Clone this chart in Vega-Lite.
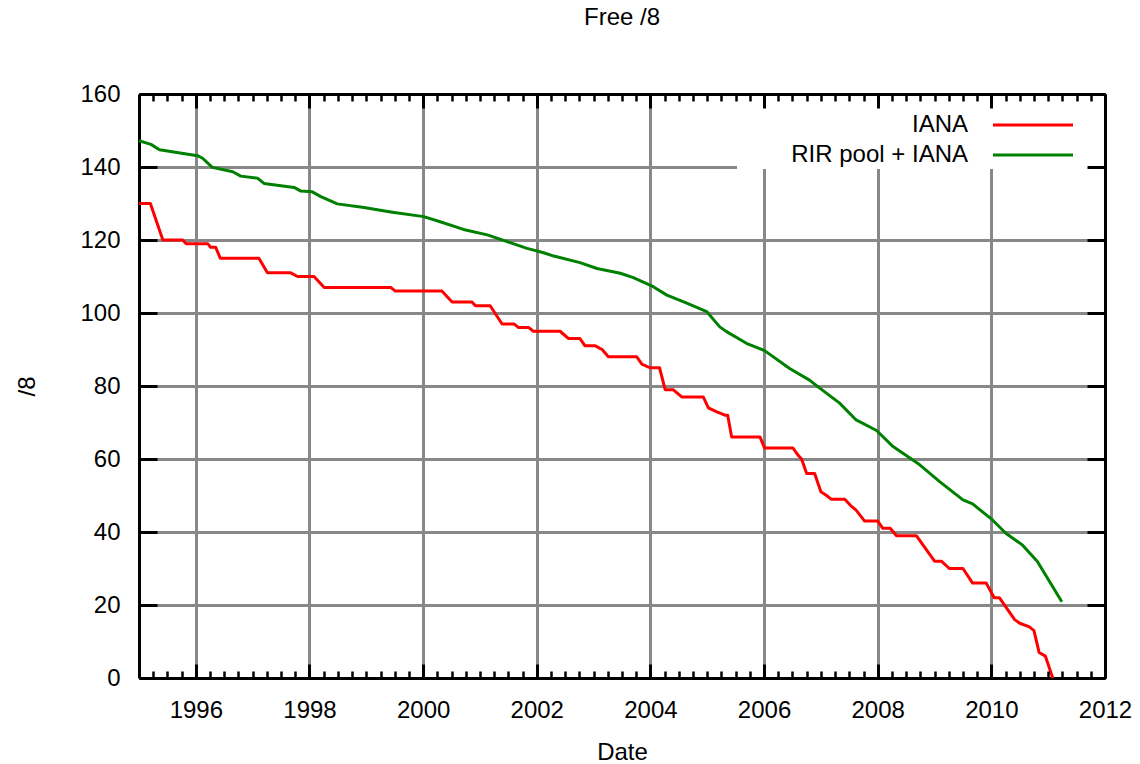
{
  "$schema": "https://vega.github.io/schema/vega-lite/v6.json",
  "width": 966,
  "height": 584,
  "autosize": {"type": "none"},
  "padding": {"left": 139, "top": 94, "right": 35, "bottom": 86},
  "background": "white",
  "config": {"font": "Liberation Sans", "view": {"stroke": null}},
  "title": {"text": "Free /8", "fontSize": 24, "fontWeight": "normal", "color": "black", "anchor": "middle", "baseline": "alphabetic", "offset": 33},
  "data": {"values": [
    {"year": 1995.0, "free": 130, "series": "IANA"},
    {"year": 1995.2, "free": 130, "series": "IANA"},
    {"year": 1995.42, "free": 120, "series": "IANA"},
    {"year": 1995.77, "free": 120, "series": "IANA"},
    {"year": 1995.83, "free": 119, "series": "IANA"},
    {"year": 1996.21, "free": 119, "series": "IANA"},
    {"year": 1996.26, "free": 118, "series": "IANA"},
    {"year": 1996.35, "free": 118, "series": "IANA"},
    {"year": 1996.43, "free": 115, "series": "IANA"},
    {"year": 1997.11, "free": 115, "series": "IANA"},
    {"year": 1997.26, "free": 111, "series": "IANA"},
    {"year": 1997.67, "free": 111, "series": "IANA"},
    {"year": 1997.79, "free": 110, "series": "IANA"},
    {"year": 1998.08, "free": 110, "series": "IANA"},
    {"year": 1998.26, "free": 107, "series": "IANA"},
    {"year": 1999.43, "free": 107, "series": "IANA"},
    {"year": 1999.51, "free": 106, "series": "IANA"},
    {"year": 2000.33, "free": 106, "series": "IANA"},
    {"year": 2000.51, "free": 103, "series": "IANA"},
    {"year": 2000.86, "free": 103, "series": "IANA"},
    {"year": 2000.92, "free": 102, "series": "IANA"},
    {"year": 2001.18, "free": 102, "series": "IANA"},
    {"year": 2001.39, "free": 97, "series": "IANA"},
    {"year": 2001.6, "free": 97, "series": "IANA"},
    {"year": 2001.68, "free": 96, "series": "IANA"},
    {"year": 2001.86, "free": 96, "series": "IANA"},
    {"year": 2001.94, "free": 95, "series": "IANA"},
    {"year": 2002.41, "free": 95, "series": "IANA"},
    {"year": 2002.56, "free": 93, "series": "IANA"},
    {"year": 2002.76, "free": 93, "series": "IANA"},
    {"year": 2002.85, "free": 91, "series": "IANA"},
    {"year": 2003.03, "free": 91, "series": "IANA"},
    {"year": 2003.15, "free": 90, "series": "IANA"},
    {"year": 2003.26, "free": 88, "series": "IANA"},
    {"year": 2003.76, "free": 88, "series": "IANA"},
    {"year": 2003.85, "free": 86, "series": "IANA"},
    {"year": 2003.99, "free": 85, "series": "IANA"},
    {"year": 2004.16, "free": 85, "series": "IANA"},
    {"year": 2004.26, "free": 79, "series": "IANA"},
    {"year": 2004.4, "free": 79, "series": "IANA"},
    {"year": 2004.55, "free": 77, "series": "IANA"},
    {"year": 2004.93, "free": 77, "series": "IANA"},
    {"year": 2005.02, "free": 74, "series": "IANA"},
    {"year": 2005.16, "free": 73, "series": "IANA"},
    {"year": 2005.31, "free": 72, "series": "IANA"},
    {"year": 2005.36, "free": 72, "series": "IANA"},
    {"year": 2005.43, "free": 66, "series": "IANA"},
    {"year": 2005.93, "free": 66, "series": "IANA"},
    {"year": 2006.01, "free": 63, "series": "IANA"},
    {"year": 2006.51, "free": 63, "series": "IANA"},
    {"year": 2006.6, "free": 61, "series": "IANA"},
    {"year": 2006.66, "free": 60, "series": "IANA"},
    {"year": 2006.75, "free": 56, "series": "IANA"},
    {"year": 2006.89, "free": 56, "series": "IANA"},
    {"year": 2007.0, "free": 51, "series": "IANA"},
    {"year": 2007.1, "free": 50, "series": "IANA"},
    {"year": 2007.18, "free": 49, "series": "IANA"},
    {"year": 2007.42, "free": 49, "series": "IANA"},
    {"year": 2007.54, "free": 47, "series": "IANA"},
    {"year": 2007.62, "free": 46, "series": "IANA"},
    {"year": 2007.77, "free": 43, "series": "IANA"},
    {"year": 2008.0, "free": 43, "series": "IANA"},
    {"year": 2008.09, "free": 41, "series": "IANA"},
    {"year": 2008.22, "free": 41, "series": "IANA"},
    {"year": 2008.33, "free": 39, "series": "IANA"},
    {"year": 2008.68, "free": 39, "series": "IANA"},
    {"year": 2009.0, "free": 32, "series": "IANA"},
    {"year": 2009.12, "free": 32, "series": "IANA"},
    {"year": 2009.26, "free": 30, "series": "IANA"},
    {"year": 2009.5, "free": 30, "series": "IANA"},
    {"year": 2009.67, "free": 26, "series": "IANA"},
    {"year": 2009.91, "free": 26, "series": "IANA"},
    {"year": 2010.05, "free": 22, "series": "IANA"},
    {"year": 2010.14, "free": 22, "series": "IANA"},
    {"year": 2010.41, "free": 16, "series": "IANA"},
    {"year": 2010.5, "free": 15, "series": "IANA"},
    {"year": 2010.67, "free": 14, "series": "IANA"},
    {"year": 2010.75, "free": 13, "series": "IANA"},
    {"year": 2010.84, "free": 7, "series": "IANA"},
    {"year": 2010.95, "free": 6, "series": "IANA"},
    {"year": 2011.08, "free": 0, "series": "IANA"},
    {"year": 1995.0, "free": 147.2, "series": "RIR pool + IANA"},
    {"year": 1995.21, "free": 146.2, "series": "RIR pool + IANA"},
    {"year": 1995.36, "free": 144.7, "series": "RIR pool + IANA"},
    {"year": 1996.03, "free": 143.1, "series": "RIR pool + IANA"},
    {"year": 1996.12, "free": 142.4, "series": "RIR pool + IANA"},
    {"year": 1996.29, "free": 139.9, "series": "RIR pool + IANA"},
    {"year": 1996.65, "free": 138.7, "series": "RIR pool + IANA"},
    {"year": 1996.79, "free": 137.5, "series": "RIR pool + IANA"},
    {"year": 1997.09, "free": 136.9, "series": "RIR pool + IANA"},
    {"year": 1997.2, "free": 135.5, "series": "RIR pool + IANA"},
    {"year": 1997.73, "free": 134.4, "series": "RIR pool + IANA"},
    {"year": 1997.85, "free": 133.4, "series": "RIR pool + IANA"},
    {"year": 1998.05, "free": 133.2, "series": "RIR pool + IANA"},
    {"year": 1998.2, "free": 131.9, "series": "RIR pool + IANA"},
    {"year": 1998.49, "free": 129.9, "series": "RIR pool + IANA"},
    {"year": 1998.96, "free": 128.9, "series": "RIR pool + IANA"},
    {"year": 1999.43, "free": 127.7, "series": "RIR pool + IANA"},
    {"year": 2000.01, "free": 126.4, "series": "RIR pool + IANA"},
    {"year": 2000.3, "free": 125.0, "series": "RIR pool + IANA"},
    {"year": 2000.71, "free": 122.9, "series": "RIR pool + IANA"},
    {"year": 2001.13, "free": 121.4, "series": "RIR pool + IANA"},
    {"year": 2001.53, "free": 119.3, "series": "RIR pool + IANA"},
    {"year": 2001.83, "free": 117.7, "series": "RIR pool + IANA"},
    {"year": 2002.12, "free": 116.5, "series": "RIR pool + IANA"},
    {"year": 2002.3, "free": 115.6, "series": "RIR pool + IANA"},
    {"year": 2002.76, "free": 113.8, "series": "RIR pool + IANA"},
    {"year": 2003.06, "free": 112.2, "series": "RIR pool + IANA"},
    {"year": 2003.47, "free": 110.9, "series": "RIR pool + IANA"},
    {"year": 2003.7, "free": 109.7, "series": "RIR pool + IANA"},
    {"year": 2004.05, "free": 107.2, "series": "RIR pool + IANA"},
    {"year": 2004.29, "free": 104.9, "series": "RIR pool + IANA"},
    {"year": 2004.64, "free": 102.7, "series": "RIR pool + IANA"},
    {"year": 2004.99, "free": 100.4, "series": "RIR pool + IANA"},
    {"year": 2005.22, "free": 96.2, "series": "RIR pool + IANA"},
    {"year": 2005.34, "free": 94.9, "series": "RIR pool + IANA"},
    {"year": 2005.69, "free": 91.7, "series": "RIR pool + IANA"},
    {"year": 2006.01, "free": 89.7, "series": "RIR pool + IANA"},
    {"year": 2006.45, "free": 84.8, "series": "RIR pool + IANA"},
    {"year": 2006.8, "free": 81.6, "series": "RIR pool + IANA"},
    {"year": 2006.98, "free": 79.4, "series": "RIR pool + IANA"},
    {"year": 2007.33, "free": 75.3, "series": "RIR pool + IANA"},
    {"year": 2007.62, "free": 70.7, "series": "RIR pool + IANA"},
    {"year": 2007.98, "free": 67.8, "series": "RIR pool + IANA"},
    {"year": 2008.27, "free": 63.4, "series": "RIR pool + IANA"},
    {"year": 2008.74, "free": 58.4, "series": "RIR pool + IANA"},
    {"year": 2009.09, "free": 53.8, "series": "RIR pool + IANA"},
    {"year": 2009.5, "free": 48.8, "series": "RIR pool + IANA"},
    {"year": 2009.67, "free": 47.7, "series": "RIR pool + IANA"},
    {"year": 2010.02, "free": 43.3, "series": "RIR pool + IANA"},
    {"year": 2010.26, "free": 39.6, "series": "RIR pool + IANA"},
    {"year": 2010.55, "free": 36.4, "series": "RIR pool + IANA"},
    {"year": 2010.81, "free": 31.9, "series": "RIR pool + IANA"},
    {"year": 2011.08, "free": 25.0, "series": "RIR pool + IANA"},
    {"year": 2011.24, "free": 20.9, "series": "RIR pool + IANA"}
  ]},
  "layer": [
    {
      "mark": {"type": "line", "strokeWidth": 3, "strokeJoin": "round"},
      "encoding": {
        "x": {"field": "year", "type": "quantitative",
          "scale": {"domain": [1995, 2012], "nice": false, "zero": false},
          "axis": {"orient": "bottom", "values": [1996, 1998, 2000, 2002, 2004, 2006, 2008, 2010, 2012], "format": "d",
            "grid": true, "gridColor": "#888888", "gridWidth": 3, "gridOpacity": 1,
            "ticks": false, "domain": true, "domainColor": "black", "domainWidth": 3,
            "labelFontSize": 24, "labelColor": "black", "labelBaseline": "alphabetic", "labelPadding": 39, "labelFlush": false, "labelOverlap": false,
            "title": "Date", "titleFontSize": 24, "titleFontWeight": "normal", "titleColor": "black", "titleBaseline": "alphabetic", "titlePadding": 37, "zindex": 0}},
        "y": {"field": "free", "type": "quantitative",
          "scale": {"domain": [0, 160], "nice": false},
          "axis": {"orient": "left", "values": [0, 20, 40, 60, 80, 100, 120, 140, 160],
            "grid": true, "gridColor": "#888888", "gridWidth": 3, "gridOpacity": 1,
            "ticks": false, "domain": true, "domainColor": "black", "domainWidth": 3,
            "labelFontSize": 24, "labelColor": "black", "labelPadding": 19, "labelFlush": false, "labelOverlap": false,
            "title": "/8", "titleFontSize": 24, "titleFontWeight": "normal", "titleColor": "black", "titleBaseline": "alphabetic", "titlePadding": 45, "zindex": 0}},
        "color": {"field": "series", "type": "nominal",
          "scale": {"domain": ["IANA", "RIR pool + IANA"], "range": ["#ff0000", "#008000"]},
          "legend": {"title": " ", "titleFontSize": 10, "titlePadding": 7, "orient": "none", "legendX": 598, "legendY": 0,
            "fillColor": "white", "padding": 2,
            "symbolType": "M242,0H322M351,0", "symbolSize": 4, "symbolStrokeWidth": 3,
            "labelFontSize": 24, "labelColor": "black", "labelAlign": "right", "labelOffset": 205, "labelLimit": 400, "rowPadding": 6}}
      }
    },
    {
      "mark": {"type": "point", "opacity": 0},
      "encoding": {
        "x": {"field": "year", "type": "quantitative",
          "axis": {"orient": "top", "values": [1996, 1998, 2000, 2002, 2004, 2006, 2008, 2010, 2012],
            "labels": false, "grid": false, "ticks": true, "tickSize": -14, "tickColor": "black", "tickWidth": 3,
            "domain": true, "domainColor": "black", "domainWidth": 3, "title": null, "minExtent": 0, "zindex": 1}},
        "y": {"field": "free", "type": "quantitative",
          "axis": {"orient": "right", "values": [0, 20, 40, 60, 80, 100, 120, 140, 160],
            "labels": false, "grid": false, "ticks": true, "tickSize": -18, "tickColor": "black", "tickWidth": 3,
            "domain": true, "domainColor": "black", "domainWidth": 3, "title": null, "minExtent": 0, "zindex": 1}}
      }
    },
    {
      "mark": {"type": "point", "opacity": 0},
      "encoding": {
        "x": {"field": "year", "type": "quantitative",
          "axis": {"orient": "bottom", "values": [1996, 1998, 2000, 2002, 2004, 2006, 2008, 2010, 2012],
            "labels": false, "grid": false, "ticks": true, "tickSize": -14, "tickColor": "black", "tickWidth": 3,
            "domain": false, "title": null, "minExtent": 0, "zindex": 1}},
        "y": {"field": "free", "type": "quantitative",
          "axis": {"orient": "left", "values": [0, 20, 40, 60, 80, 100, 120, 140, 160],
            "labels": false, "grid": false, "ticks": true, "tickSize": -18, "tickColor": "black", "tickWidth": 3,
            "domain": false, "title": null, "minExtent": 0, "zindex": 1}}
      }
    },
    {
      "mark": {"type": "point", "opacity": 0},
      "encoding": {
        "x": {"field": "year", "type": "quantitative",
          "axis": {"orient": "top", "values": [1995.25, 1995.5, 1995.75, 1996.25, 1996.5, 1996.75, 1997, 1997.25, 1997.5, 1997.75, 1998.25, 1998.5, 1998.75, 1999, 1999.25, 1999.5, 1999.75, 2000.25, 2000.5, 2000.75, 2001, 2001.25, 2001.5, 2001.75, 2002.25, 2002.5, 2002.75, 2003, 2003.25, 2003.5, 2003.75, 2004.25, 2004.5, 2004.75, 2005, 2005.25, 2005.5, 2005.75, 2006.25, 2006.5, 2006.75, 2007, 2007.25, 2007.5, 2007.75, 2008.25, 2008.5, 2008.75, 2009, 2009.25, 2009.5, 2009.75, 2010.25, 2010.5, 2010.75, 2011, 2011.25, 2011.5, 2011.75],
            "labels": false, "grid": false, "ticks": true, "tickSize": -7, "tickColor": "black", "tickWidth": 2.5,
            "domain": false, "title": null, "minExtent": 0, "zindex": 1}},
        "y": {"field": "free", "type": "quantitative", "axis": null}
      }
    },
    {
      "mark": {"type": "point", "opacity": 0},
      "encoding": {
        "x": {"field": "year", "type": "quantitative",
          "axis": {"orient": "bottom", "values": [1995.25, 1995.5, 1995.75, 1996.25, 1996.5, 1996.75, 1997, 1997.25, 1997.5, 1997.75, 1998.25, 1998.5, 1998.75, 1999, 1999.25, 1999.5, 1999.75, 2000.25, 2000.5, 2000.75, 2001, 2001.25, 2001.5, 2001.75, 2002.25, 2002.5, 2002.75, 2003, 2003.25, 2003.5, 2003.75, 2004.25, 2004.5, 2004.75, 2005, 2005.25, 2005.5, 2005.75, 2006.25, 2006.5, 2006.75, 2007, 2007.25, 2007.5, 2007.75, 2008.25, 2008.5, 2008.75, 2009, 2009.25, 2009.5, 2009.75, 2010.25, 2010.5, 2010.75, 2011, 2011.25, 2011.5, 2011.75],
            "labels": false, "grid": false, "ticks": true, "tickSize": -7, "tickColor": "black", "tickWidth": 2.5,
            "domain": false, "title": null, "minExtent": 0, "zindex": 1}},
        "y": {"field": "free", "type": "quantitative", "axis": null}
      }
    }
  ],
  "resolve": {"axis": {"x": "independent", "y": "independent"}}
}
